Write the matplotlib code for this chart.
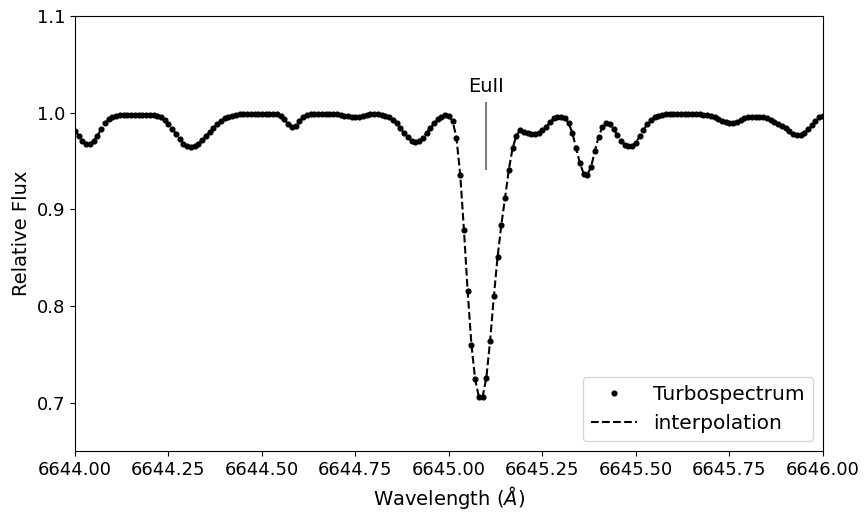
import numpy as np
import matplotlib
matplotlib.use("Agg")
import matplotlib.pyplot as plt

# Wavelength grid (0.01 A sampling, 6644.00 .. 6646.00)
wl_start, wl_end, n_pts = 6644.00, 6646.00, 201
wavelength = np.linspace(wl_start, wl_end, n_pts)

flux = [
    # 6644.00 - 6644.09
    0.981, 0.976, 0.971, 0.968, 0.968, 0.971, 0.976, 0.983, 0.989, 0.993,
    # 6644.10 - 6644.19
    0.996, 0.997, 0.998, 0.998, 0.998, 0.998, 0.998, 0.998, 0.998, 0.998,
    # 6644.20 - 6644.29
    0.998, 0.998, 0.997, 0.995, 0.992, 0.988, 0.983, 0.978, 0.973, 0.968,
    # 6644.30 - 6644.39
    0.965, 0.964, 0.965, 0.968, 0.972, 0.976, 0.980, 0.984, 0.988, 0.991,
    # 6644.40 - 6644.49
    0.994, 0.996, 0.997, 0.998, 0.999, 0.999, 0.999, 0.999, 0.999, 0.999,
    # 6644.50 - 6644.59
    0.999, 0.999, 0.999, 0.999, 0.999, 0.997, 0.993, 0.988, 0.985, 0.986,
    # 6644.60 - 6644.69
    0.991, 0.996, 0.998, 0.999, 0.999, 0.999, 0.999, 0.999, 0.999, 0.999,
    # 6644.70 - 6644.79
    0.999, 0.998, 0.997, 0.997, 0.996, 0.996, 0.996, 0.997, 0.998, 0.999,
    # 6644.80 - 6644.89
    0.999, 0.999, 0.998, 0.997, 0.995, 0.992, 0.989, 0.984, 0.979, 0.975,
    # 6644.90 - 6644.99
    0.971, 0.970, 0.971, 0.974, 0.979, 0.984, 0.989, 0.993, 0.996, 0.998,
    # 6645.00 - 6645.09
    0.997, 0.991, 0.974, 0.936, 0.879, 0.815, 0.760, 0.724, 0.706, 0.706,
    # 6645.10 - 6645.19
    0.726, 0.764, 0.810, 0.851, 0.884, 0.912, 0.941, 0.963, 0.976, 0.982,
    # 6645.20 - 6645.29
    0.980, 0.979, 0.978, 0.978, 0.979, 0.982, 0.985, 0.990, 0.994, 0.996,
    # 6645.30 - 6645.39
    0.996, 0.994, 0.989, 0.979, 0.963, 0.948, 0.937, 0.936, 0.944, 0.960,
    # 6645.40 - 6645.49
    0.975, 0.985, 0.989, 0.988, 0.983, 0.977, 0.971, 0.967, 0.965, 0.966,
    # 6645.50 - 6645.59
    0.969, 0.976, 0.982, 0.988, 0.992, 0.995, 0.997, 0.998, 0.999, 0.999,
    # 6645.60 - 6645.69
    0.999, 0.999, 0.999, 0.999, 0.999, 0.999, 0.999, 0.999, 0.998, 0.998,
    # 6645.70 - 6645.79
    0.997, 0.995, 0.993, 0.991, 0.990, 0.989, 0.989, 0.990, 0.992, 0.994,
    # 6645.80 - 6645.89
    0.995, 0.996, 0.996, 0.996, 0.995, 0.994, 0.992, 0.990, 0.988, 0.986,
    # 6645.90 - 6645.99
    0.984, 0.981, 0.978, 0.977, 0.977, 0.979, 0.983, 0.987, 0.991, 0.995,
    # 6646.00
    0.997,
]

line_label = "EuII"
line_wl = 6645.10
line_mark_lo, line_mark_hi = 0.941, 1.011
xticks = [6644.00, 6644.25, 6644.50, 6644.75, 6645.00, 6645.25, 6645.50, 6645.75, 6646.00]
yticks = [0.7, 0.8, 0.9, 1.0, 1.1]

fig = plt.figure(figsize=(8.65, 5.13), dpi=100)
ax = fig.add_axes([0.0867, 0.1209, 0.8647, 0.8479])

ax.plot(wavelength, flux, "--", color="black", lw=1.5, label="interpolation", zorder=2)
ax.plot(wavelength, flux, "o", color="black", ms=3.4, label="Turbospectrum", zorder=3)

ax.vlines(line_wl, line_mark_lo, line_mark_hi, color="gray", lw=1.5)
ax.text(line_wl, 1.017, line_label, ha="center", va="bottom", fontsize=14)

ax.set_xlim(wl_start, wl_end)
ax.set_ylim(0.65, 1.1)
ax.set_xticks(xticks)
ax.set_xticklabels([f"{t:.2f}" for t in xticks])
ax.set_yticks(yticks)
ax.set_yticklabels([f"{t:.1f}" for t in yticks])
ax.tick_params(labelsize=13)
ax.set_xlabel(r"Wavelength ($\AA$)", fontsize=14)
ax.set_ylabel("Relative Flux", fontsize=14)

h, l = ax.get_legend_handles_labels()
leg = ax.legend([h[1], h[0]], [l[1], l[0]], loc="lower right", fontsize=14.5,
                handlelength=2.3)
leg.legend_handles[0].set_markersize(3.4)

fig.savefig("out.png", dpi=100)
